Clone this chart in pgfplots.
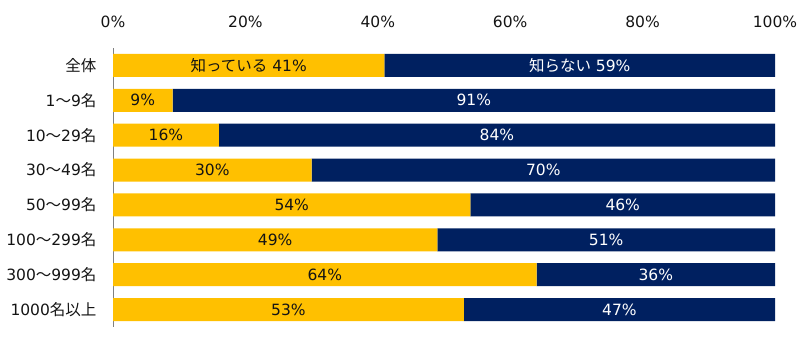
\documentclass[border=0pt]{standalone}
\usepackage{pgfplots}
\pgfplotsset{compat=1.18}
\usepackage{pgfplotstable}
\usepackage{fontspec}
\setmainfont{DejaVu Sans}
\newfontfamily\cjk{Noto Sans CJK JP}
\definecolor{yel}{HTML}{FFC000}
\definecolor{navy}{HTML}{002060}
\definecolor{txt}{HTML}{141414}
\newcommand\lf{\fontsize{15.5pt}{18pt}\selectfont}
\pgfplotstableread[col sep=comma]{
y,a,b,la,lb
1,41,59,{\cjk 知っている} 41\%,{\cjk 知らない} 59\%
2,9,91,9\%,91\%
3,16,84,16\%,84\%
4,30,70,30\%,70\%
5,54,46,54\%,46\%
6,49,51,49\%,51\%
7,64,36,64\%,36\%
8,53,47,53\%,47\%
}\data
\begin{document}
\begin{tikzpicture}[x=1pt,y=1pt]
\path[use as bounding box] (0,0) rectangle (800,341);
\pgfplotsset{myaxis/.style={
  at={(113pt,14pt)}, anchor=south west,
  scale only axis, width=662pt, height=279pt,
  xmin=0, xmax=100, ymin=0.5, ymax=8.5, y dir=reverse,
}}
\begin{axis}[myaxis,
  xbar stacked, bar width=23pt,
  axis x line*=top, axis y line*=left,
  x axis line style={draw=none},
  y axis line style={draw=gray, line width=0.8pt, -},
  xtick={0,20,40,60,80,100},
  xticklabel={\pgfmathprintnumber{\tick}\%},
  xticklabel style={font=\lf, text=txt, yshift=17pt},
  ytick={1,...,8},
  yticklabels={{\cjk 全体},1{\cjk ～}9{\cjk 名},10{\cjk ～}29{\cjk 名},30{\cjk ～}49{\cjk 名},50{\cjk ～}99{\cjk 名},100{\cjk ～}299{\cjk 名},300{\cjk ～}999{\cjk 名},1000{\cjk 名以上}},
  yticklabel style={font=\lf, text=txt, xshift=-13pt},
  major tick length=0pt,
  /pgf/number format/assume math mode=true,
]
\addplot[fill=yel, draw=none] table[x=a, y=y] {\data};
\addplot[fill=navy, draw=none] table[x=b, y=y] {\data};
\end{axis}
\begin{axis}[myaxis, hide axis]
\addplot[draw=none, mark=none, nodes near coords, point meta=explicit symbolic,
  nodes near coords style={anchor=center, text=txt, font=\lf}]
  table[x expr=\thisrow{a}/2, y=y, meta=la] {\data};
\addplot[draw=none, mark=none, nodes near coords, point meta=explicit symbolic,
  nodes near coords style={anchor=center, text=white, font=\lf}]
  table[x expr=\thisrow{a}+\thisrow{b}/2, y=y, meta=lb] {\data};
\end{axis}
\end{tikzpicture}
\end{document}
